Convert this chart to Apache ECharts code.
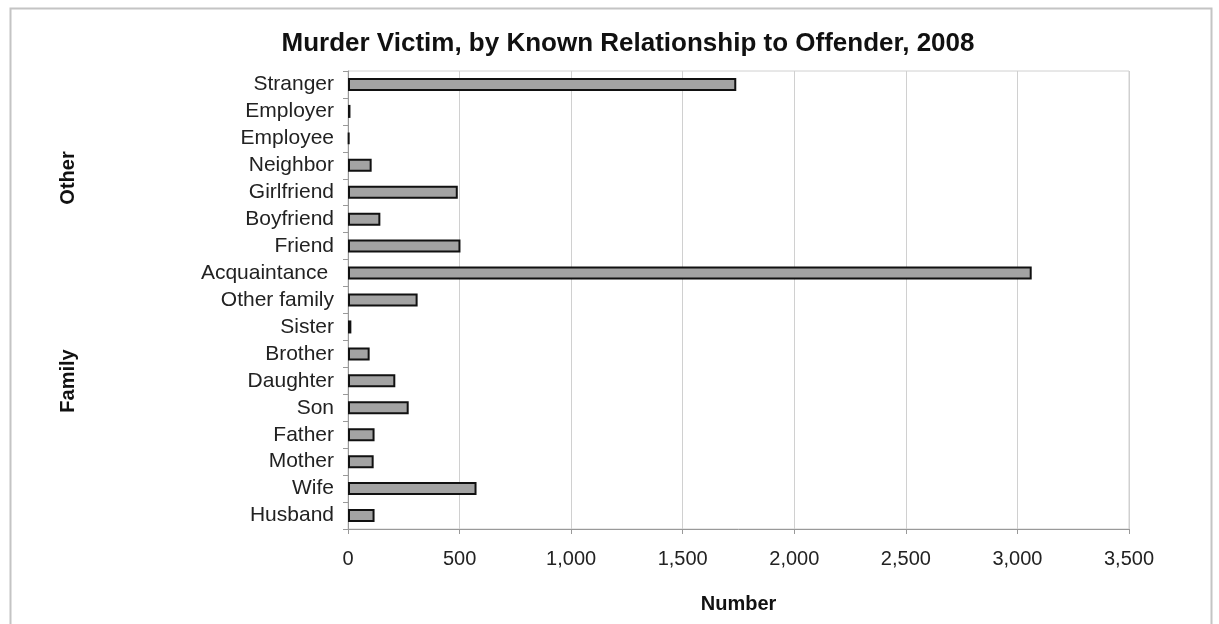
<!DOCTYPE html>
<html>
<head>
<meta charset="utf-8">
<script src="https://cdn.jsdelivr.net/npm/echarts@6/dist/echarts.min.js"></script>
<style>html,body{margin:0;padding:0;background:#fff;}#chart{width:1219px;height:624px;}</style>
</head>
<body>
<div id="chart"></div>
<script>
const categories = ['Stranger','Employer','Employee','Neighbor','Girlfriend','Boyfriend','Friend','Acquaintance ','Other family','Sister','Brother','Daughter','Son','Father','Mother','Wife','Husband'];
const victims = [1740, 11, 6, 106, 492, 145, 504, 3064, 312, 15, 97, 212, 272, 119, 115, 576, 119];
const xTicks = {min: 0, max: 3500, interval: 500};
const groupLabels = ['Other', 'Family'];
const titleText = 'Murder Victim, by Known Relationship to Offender, 2008';
const xName = 'Number';

const font = 'Liberation Sans, Arial, Helvetica, sans-serif';
const chart = echarts.init(document.getElementById('chart'));
chart.setOption({
  animation: false,
  backgroundColor: '#fff',
  title: {
    text: titleText, left: 623, top: 26, textAlign: 'center',
    textStyle: {fontFamily: font, fontSize: 26, fontWeight: 'bold', color: '#111'}
  },
  grid: {left: 348, right: 90, top: 71, bottom: 95, show: true, borderColor: '#d0d0d0', borderWidth: 1, containLabel: false},
  xAxis: {
    type: 'value', min: xTicks.min, max: xTicks.max, interval: xTicks.interval,
    name: xName, nameLocation: 'middle', nameGap: 65,
    nameTextStyle: {fontFamily: font, fontSize: 20, fontWeight: 'bold', color: '#111'},
    axisLine: {show: true, lineStyle: {color: '#999', width: 1}},
    axisTick: {show: true, length: 5, lineStyle: {color: '#999'}},
    axisLabel: {fontFamily: font, fontSize: 20, color: '#222', margin: 20,
      formatter: v => v.toLocaleString('en-US')},
    splitLine: {show: true, lineStyle: {color: '#d0d0d0', width: 1}}
  },
  yAxis: {
    type: 'category', data: categories, inverse: true,
    axisLine: {show: true, lineStyle: {color: '#999', width: 1}},
    axisTick: {show: true, length: 5, lineStyle: {color: '#999'}},
    axisLabel: {fontFamily: font, fontSize: 21, color: '#222', margin: 14, interval: 0}
  },
  series: [{
    type: 'bar', data: victims, barWidth: 13,
    itemStyle: {color: '#a3a3a3', borderColor: '#111', borderWidth: 2}
  }],
  graphic: [
    {type: 'rect', left: 8, top: 6, silent: true,
     shape: {width: 1201, height: 640},
     style: {fill: null, stroke: '#c4c4c4', lineWidth: 2}},
    {type: 'text', x: 68, y: 178, rotation: Math.PI / 2,
     style: {text: groupLabels[0], fontFamily: font, fontSize: 20, fontWeight: 'bold', fill: '#111', textAlign: 'center', textVerticalAlign: 'middle'}},
    {type: 'text', x: 68, y: 381, rotation: Math.PI / 2,
     style: {text: groupLabels[1], fontFamily: font, fontSize: 20, fontWeight: 'bold', fill: '#111', textAlign: 'center', textVerticalAlign: 'middle'}}
  ]
});
</script>
</body>
</html>
